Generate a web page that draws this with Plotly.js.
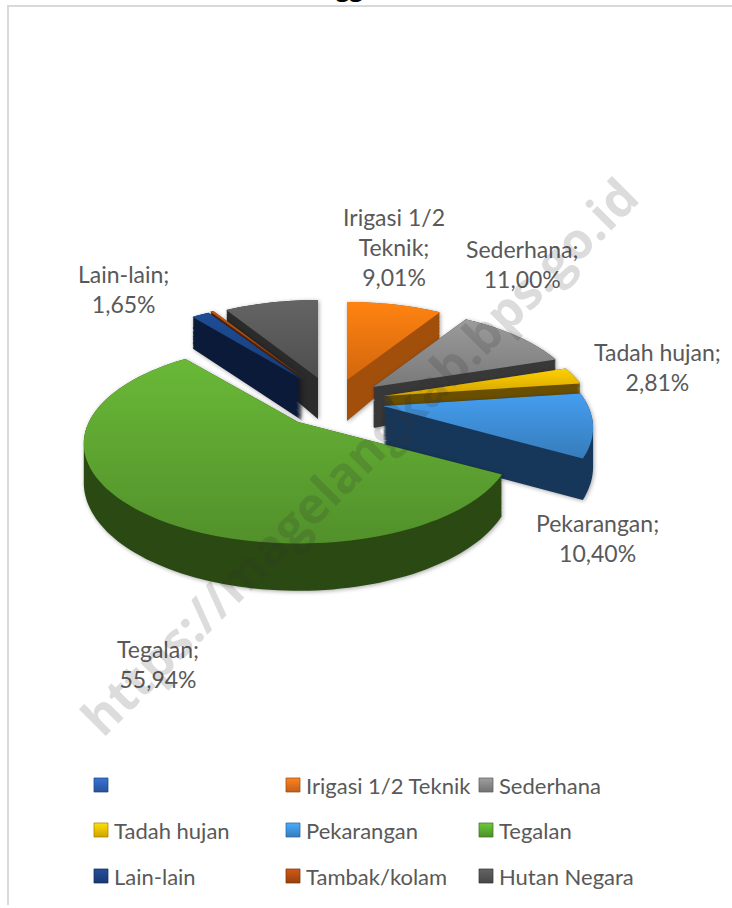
<!DOCTYPE html>
<html><head><meta charset="utf-8">
<script src="https://cdn.plot.ly/plotly-3.0.1.min.js"></script>
<style>html,body{margin:0;padding:0;background:#fff}</style></head>
<body><div id="chart" style="width:732px;height:908px"></div>
<script>
// ---- data ----
var categories = ["\u00a0","Irigasi 1/2 Teknik","Sederhana","Tadah hujan","Pekarangan","Tegalan","Lain-lain","Tambak/kolam","Hutan Negara"];
var shares = [0, 9.01, 11.00, 2.81, 10.40, 55.94, 1.65, 0.30, 8.89];
var labelNames = {1:"Irigasi 1/2<br>Teknik;",2:"Sederhana;",3:"Tadah hujan;",4:"Pekarangan;",5:"Tegalan;",6:"Lain-lain;"};
// ---- styles ----
var faceColors = ["#2f62b5","#f5770f","#8d8d8d","#f4bd00","#3f90d9","#5fa832","#1b4688","#b0500f","#5b5b5b"];
var sideColors = ["#1a3a70","#a34f0c","#383838","#6a4f00","#17375a","#2b4a13","#0a1a38","#5a2408","#2b2b2b"];
var legendColors = ["#2c5cac","#d9691c","#7f7f7f","#e6b400","#3a8ad0","#56a02e","#1c3f7c","#a8480f","#4f4f4f"];
// ---- placement of the tilted pie ----
var drawOrder = [8,7,6,1,2,3,4,5];
var apexX = [0,347,373,383,383,298,303,305,318];
var apexY = [0,380,387,396,406,422,380,379,378];
var sliceScaleX = [1,1,1,1,1,1.02,1,1,1];
var labelX = {1:394,2:522,3:657,4:597,5:158,6:123};
var labelY = {1:247,2:264,3:367,4:538,5:664,6:289};
var legendCols = [86,278,471], legendRows = [785,830,876];
var W=732,H=908, scaleX=205, scaleY=95, persp=0.218, depth=37, apexDepth=41;
var textFont='Lato';

function fmt(v){return v.toFixed(2).replace('.',',');}
function pieTrace(colors, legend){
  return {type:'pie',labels:categories,values:shares,sort:false,direction:'clockwise',rotation:0,
    marker:{colors:colors,line:{width:0}},textinfo:'none',hoverinfo:'skip',showlegend:legend};
}
var traces=[pieTrace(legendColors,true)];
drawOrder.forEach(function(i){ traces.push(pieTrace(sideColors,false)); traces.push(pieTrace(faceColors,false)); });

var annotations=[{text:'gg',xref:'paper',yref:'paper',x:350/W,y:1-5/H,xanchor:'center',yanchor:'bottom',
  showarrow:false,font:{family:'Open Sans',size:24,color:'#000',weight:700}}];
Object.keys(labelNames).forEach(function(k){
  annotations.push({text:labelNames[k]+'<br>'+fmt(shares[k])+'%',xref:'paper',yref:'paper',x:labelX[k]/W,y:1-labelY[k]/H,
    xanchor:'center',yanchor:'middle',showarrow:false,align:'center',font:{family:textFont,size:23,color:'#595959'}});
});
annotations.push({text:'https://magelangkab.bps.go.id',xref:'paper',yref:'paper',x:359/W,y:1-456/H,textangle:-45,
  xanchor:'center',yanchor:'middle',showarrow:false,font:{family:'Open Sans',size:50,color:'rgba(50,50,50,0.17)',weight:700}});

var layout={width:W,height:H,margin:{l:0,r:0,t:0,b:0},paper_bgcolor:'#fff',showlegend:true,
  legend:{orientation:'h',x:86/W,y:1-650/H,xanchor:'left',yanchor:'top',entrywidth:192,entrywidthmode:'pixels',
    font:{family:textFont,size:22,color:'#595959'},bgcolor:'rgba(0,0,0,0)',traceorder:'normal'},
  annotations:annotations,
  shapes:[{type:'line',xref:'paper',yref:'paper',x0:8/W,x1:8/W,y0:3/H,y1:1-6/H,line:{color:'#d9d9d9',width:2}},
          {type:'line',xref:'paper',yref:'paper',x0:7/W,x1:1,y0:1-6/H,y1:1-6/H,line:{color:'#d9d9d9',width:2}}]};

function project(th, i){
  var X=Math.sin(th), Y=-Math.cos(th), s=1/(1-persp*Y);
  return [apexX[i]+sliceScaleX[i]*scaleX*X*s, apexY[i]+scaleY*Y*s, depth*s];
}
function outline(i,a0,a1){
  var pts=[[apexX[i],apexY[i],apexDepth]], n=Math.max(4,Math.ceil((a1-a0)/0.03));
  for(var j=0;j<=n;j++) pts.push(project(a0+(a1-a0)*j/n,i));
  return pts;
}
function toD(pts,f){
  return 'M'+pts.map(function(p){return p[0].toFixed(1)+','+(p[1]+p[2]*f).toFixed(1);}).join('L')+'Z';
}
function shade(hex,f){
  var n=parseInt(hex.slice(1),16),r=n>>16,g=(n>>8)&255,b=n&255;
  function c(v){return Math.max(0,Math.min(255,Math.round(v*f)));}
  return 'rgb('+c(r)+','+c(g)+','+c(b)+')';
}
Plotly.newPlot('chart',traces,layout,{staticPlot:true,displayModeBar:false}).then(function(gd){
  var svg=gd.querySelector('svg.main-svg');
  var ns='http://www.w3.org/2000/svg';
  var defs=svg.querySelector('defs');
  function addGrad(id,c,hi,lo){
    var g=document.createElementNS(ns,'linearGradient');
    g.setAttribute('id',id);g.setAttribute('x1','0');g.setAttribute('x2','0');g.setAttribute('y1','0');g.setAttribute('y2','1');
    [[0,hi],[1,lo]].forEach(function(st){
      var s=document.createElementNS(ns,'stop');s.setAttribute('offset',st[0]);s.setAttribute('stop-color',shade(c,st[1]));g.appendChild(s);
    });
    defs.appendChild(g);
  }
  faceColors.forEach(function(c,i){ addGrad('faceGrad'+i,c,1.1,0.86); });
  legendColors.forEach(function(c,i){ addGrad('legGrad'+i,c,1.25,0.9); });
  var groups=gd.querySelectorAll('.pielayer .trace');
  groups.forEach(function(tr,t){
    var owner = t===0 ? -1 : drawOrder[Math.floor((t-1)/2)];
    var isSide = t>0 && (t-1)%2===0;
    tr.querySelectorAll('path.surface').forEach(function(p){
      var pt=p.__data__;
      if(pt.i!==owner){p.setAttribute('d','M0,0Z');p.style.display='none';return;}
      var pts=outline(owner,pt.startangle,pt.stopangle);
      if(isSide){
        var d='';
        for(var q=0;q<=40;q++) d+=toD(pts,q/40);
        p.setAttribute('d',d);
        p.style.filter='drop-shadow(1px 1px 2px rgba(0,0,0,0.35))';
      } else {
        p.setAttribute('d',toD(pts,0));
        p.style.fill='url(#faceGrad'+owner+')';
      }
    });
  });
  // legend grid
  var items=gd.querySelectorAll('.legend .traces');
  var sc=gd.querySelector('.legend .scrollbox');
  if(sc) sc.removeAttribute('clip-path');
  var lg=gd.querySelector('.legend');
  var m=/translate\(([-\d.]+)[ ,]+([-\d.]+)\)/.exec(lg.getAttribute('transform')||'');
  var ox=m?+m[1]:0, oy=m?+m[2]:0;
  items.forEach(function(it,i){
    var col=i%3,row=Math.floor(i/3);
    it.setAttribute('transform','translate('+(legendCols[col]-ox)+','+(legendRows[row]-oy)+')');
    var t=it.querySelector('text');
    if(t) t.setAttribute('x',28);
    var sw=it.querySelector('.legendpoints path');
    if(sw){
      sw.setAttribute('transform','translate(15,0) scale(1.17)');
      sw.style.fill='url(#legGrad'+i+')';
      sw.style.stroke=shade(legendColors[i],0.7);
      sw.style.strokeWidth='0.6px';
    }
  });
});
</script></body></html>
